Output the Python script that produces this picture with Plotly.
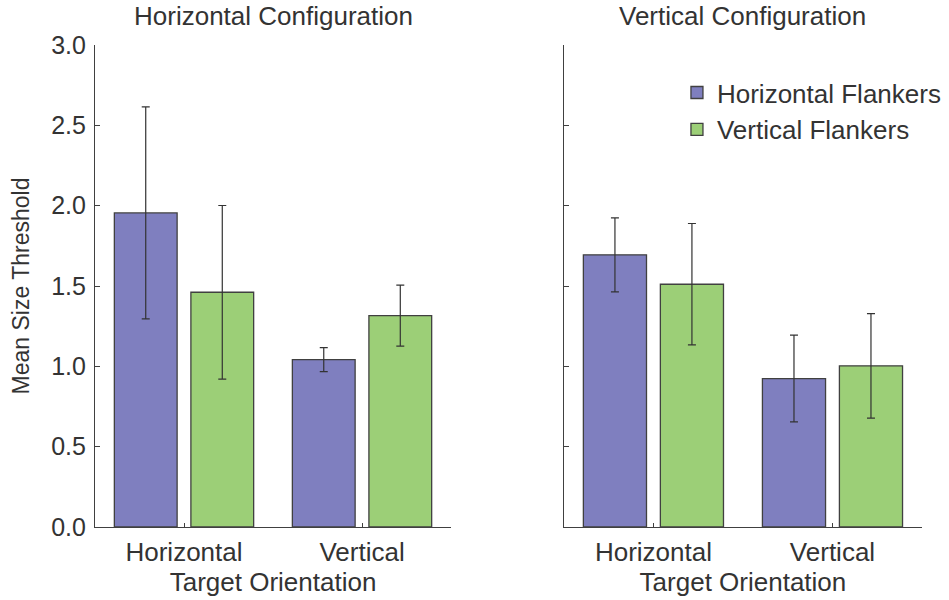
import plotly.graph_objects as go

categories = ["Horizontal", "Vertical"]
series_names = ["Horizontal Flankers", "Vertical Flankers"]
colors = ["#7f7fbf", "#9ccf77"]

# Horizontal configuration panel
hc_hflank = [1.955, 1.042]
hc_hflank_err = [0.66, 0.075]
hc_vflank = [1.461, 1.316]
hc_vflank_err = [0.54, 0.19]

# Vertical configuration panel
vc_hflank = [1.694, 0.924]
vc_hflank_err = [0.23, 0.27]
vc_vflank = [1.511, 1.003]
vc_vflank_err = [0.378, 0.325]

y_ticks = [0.0, 0.5, 1.0, 1.5, 2.0, 2.5, 3.0]
y_ticklabels = ["0.0", "0.5", "1.0", "1.5", "2.0", "2.5", "3.0"]

FONT = "Liberation Sans, Arial, Helvetica, sans-serif"
TXT = "#333333"
LINE = "#404040"

fig = go.Figure()

panels = [
    ("x", "y", [hc_hflank, hc_vflank], [hc_hflank_err, hc_vflank_err], True),
    ("x2", "y2", [vc_hflank, vc_vflank], [vc_hflank_err, vc_vflank_err], False),
]
for xa, ya, vals, errs, first in panels:
    for i in range(2):
        fig.add_trace(go.Bar(
            x=categories, y=vals[i], name=series_names[i],
            xaxis=xa, yaxis=ya,
            marker=dict(color=colors[i], line=dict(color=LINE, width=1.3)),
            error_y=dict(type="data", array=errs[i], color="#333333",
                         thickness=1.2, width=4),
            showlegend=not first,
            legendgroup=series_names[i],
        ))

axis_common = dict(showline=True, linecolor=LINE, linewidth=1.2,
                   showgrid=False, zeroline=False, ticks="inside",
                   tickcolor=LINE, tickwidth=1, automargin=False)

xcommon = dict(range=[-0.5, 1.5], type="category", ticklen=4,
               ticklabelstandoff=2, tickfont=dict(size=26),
               title=dict(text="Target Orientation", standoff=0,
                          font=dict(size=26)))

fig.update_layout(
    width=949, height=600,
    margin=dict(l=95, r=27, t=45, b=73, autoexpand=False),
    paper_bgcolor="white", plot_bgcolor="white",
    font=dict(family=FONT, size=25, color=TXT),
    barmode="group", bargap=0.14, bargroupgap=0.18,
    xaxis=dict(domain=[0, 0.4305], **xcommon, **axis_common),
    xaxis2=dict(domain=[0.567, 1], anchor="y2", **xcommon, **axis_common),
    yaxis=dict(range=[0, 3], tickvals=y_ticks, ticktext=y_ticklabels,
               ticklen=5, ticklabelstandoff=3, tickfont=dict(size=25),
               title=dict(text="Mean Size Threshold", standoff=15,
                          font=dict(size=23)),
               **axis_common),
    yaxis2=dict(range=[0, 3], tickvals=y_ticks, showticklabels=False,
                ticklen=5, anchor="x2", **axis_common),
    legend=dict(x=0.7037, y=0.95, xanchor="left", yanchor="top",
                font=dict(size=26, color=TXT), bgcolor="rgba(0,0,0,0)",
                itemwidth=30, tracegroupgap=0),
    annotations=[
        dict(text="Horizontal Configuration", xref="paper", yref="paper",
             x=0.2153, y=1.0, xanchor="center", yanchor="middle", yshift=29,
             showarrow=False, font=dict(size=26, color=TXT)),
        dict(text="Vertical Configuration", xref="paper", yref="paper",
             x=0.7835, y=1.0, xanchor="center", yanchor="middle", yshift=29,
             showarrow=False, font=dict(size=26, color=TXT)),
    ],
)

fig.write_html("out.html")
